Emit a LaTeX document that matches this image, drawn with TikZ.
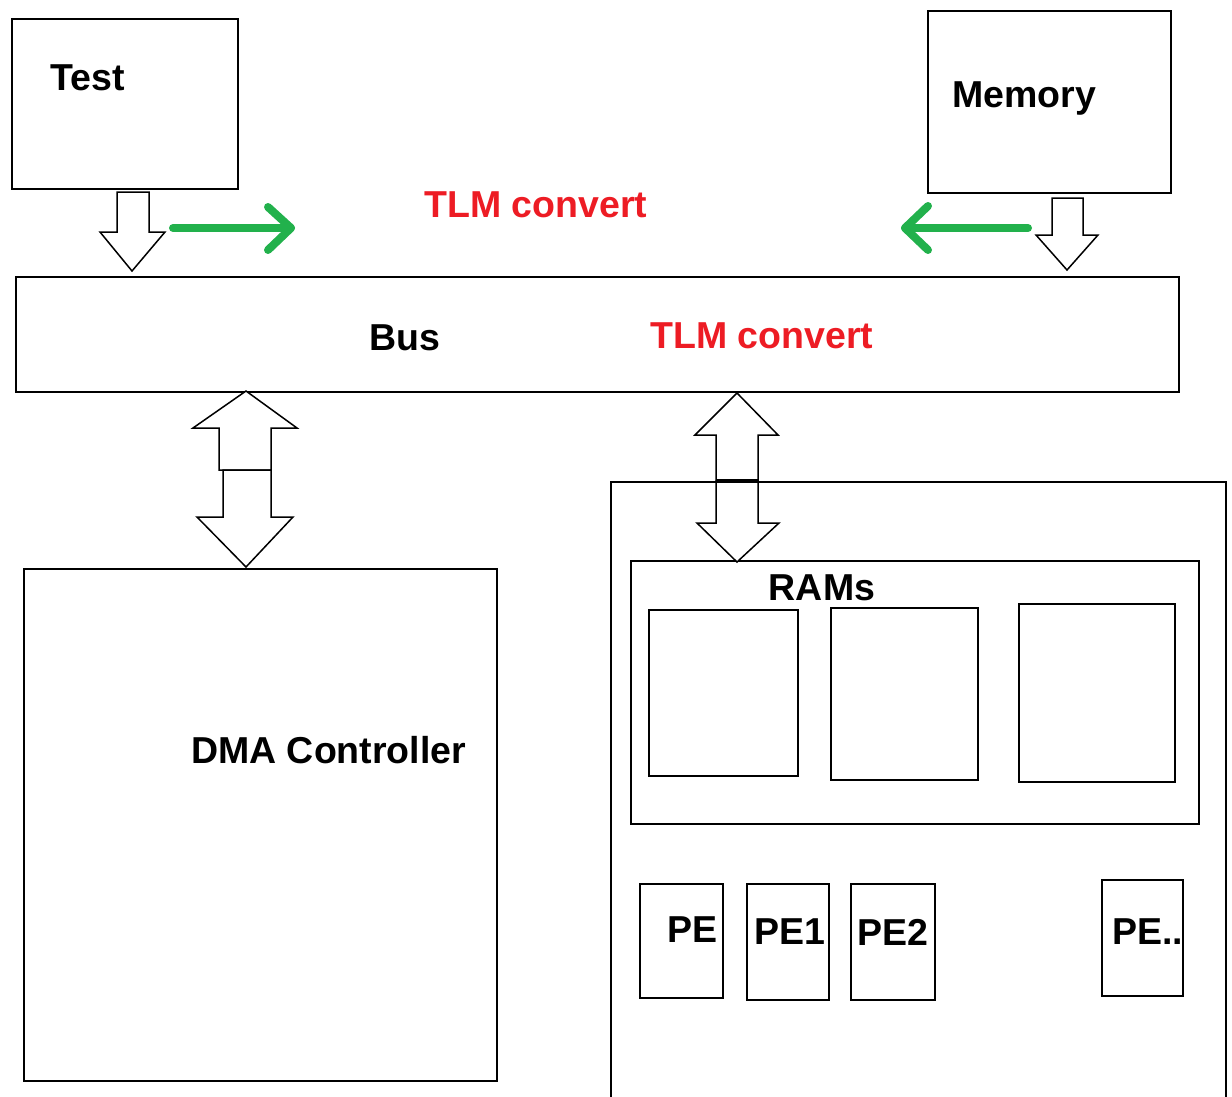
\documentclass[tikz,border=0pt]{standalone}
\usepackage{fontspec}
\setmainfont{Liberation Sans}
\definecolor{tlmred}{RGB}{237,28,36}
\definecolor{flowgreen}{RGB}{34,177,76}
\tikzset{
  box/.style={draw=black, line width=1.6pt, fill=white, inner sep=0pt, anchor=north west},
  lbl/.style={font=\fontsize{37.5}{41}\selectfont\bfseries, inner sep=0pt},
  redlbl/.style={lbl, text=tlmred},
  blockarrow/.style={draw=black, line width=1.5pt, fill=white, line join=miter},
  flow/.style={draw=flowgreen, line width=8pt, line cap=round, line join=round},
}
\newcommand{\boxat}[5]{\node[box, minimum width=#4pt, minimum height=#5pt] (#1) at (#2,#3) {};}
\begin{document}
\begin{tikzpicture}[x=1pt,y=-1pt]
\useasboundingbox (0,0) rectangle (1232,1097);

% main blocks
\boxat{test}{11}{18}{226}{170}
\boxat{mem}{927}{10}{243}{182}
\boxat{bus}{15}{276}{1163}{115}
\boxat{dma}{23}{568}{473}{512}
\boxat{cluster}{610}{481}{615}{640}
\boxat{rams}{630}{560}{568}{263}
\boxat{ramA}{648}{609}{149}{166}
\boxat{ramB}{830}{607}{147}{172}
\boxat{ramC}{1018}{603}{156}{178}
\boxat{pe0}{639}{883}{83}{114}
\boxat{pe1}{746}{883}{82}{116}
\boxat{pe2}{850}{883}{84}{116}
\boxat{pen}{1101}{879}{81}{116}

% labels
\node[lbl, anchor=west] (testlbl) at (50,78) {Test};
\node[lbl, anchor=base west] (memlbl) at (952,108) {Memory};
\node[lbl] (buslbl) at (405,338) {Bus};
\node[redlbl] (tlmtop) at (536,205) {TLM convert};
\node[redlbl] (tlmbus) at (762,336) {TLM convert};
\node[lbl, anchor=west] (dmalbl) at (191,750) {DMA Controller};
\node[lbl] (ramslbl) at (822,588) {RAMs};
\node[lbl, anchor=west] (pe0lbl) at (667,930) {PE};
\node[lbl, anchor=west] (pe1lbl) at (754,932) {PE1};
\node[lbl, anchor=west] (pe2lbl) at (857,932) {PE2};
\node[lbl, anchor=west] (penlbl) at (1112,932) {PE..};

% Test -> Bus block arrow
\draw[blockarrow] (117,192) -- (149,192) -- (149,232) -- (165,232) -- (132,271)
  -- (100,232) -- (117,232) -- cycle;
% Memory -> Bus block arrow
\draw[blockarrow] (1052,198) -- (1083,198) -- (1083,235) -- (1098,235) -- (1067,270)
  -- (1036,235) -- (1052,235) -- cycle;

% green flow arrows
\coordinate (gA1) at (173,228);
\coordinate (gA2) at (291,228);
\draw[flow] (gA1) -- (gA2);
\draw[flow] (268,207) -- (gA2) -- (268,250);
\coordinate (gB1) at (1028,228);
\coordinate (gB2) at (905,228);
\draw[flow] (gB1) -- (gB2);
\draw[flow] (928,206) -- (gB2) -- (928,250);

% Bus <-> DMA double block arrow
\draw[blockarrow] (246,391) -- (297,428) -- (271,428) -- (271,470) -- (219,470)
  -- (219,428) -- (193,428) -- cycle;
\draw[blockarrow] (223,470) -- (271,470) -- (271,517) -- (293,517) -- (246,567)
  -- (197,517) -- (223,517) -- cycle;

% Bus <-> cluster double block arrow
\draw[blockarrow] (737,393) -- (778,435) -- (758,435) -- (758,481) -- (716,481)
  -- (716,435) -- (695,435) -- cycle;
\draw[blockarrow] (716,481) -- (758,481) -- (758,523) -- (779,523) -- (737,562)
  -- (697,523) -- (716,523) -- cycle;
\draw[line width=4pt] (716,481) -- (758,481);
\end{tikzpicture}
\end{document}
